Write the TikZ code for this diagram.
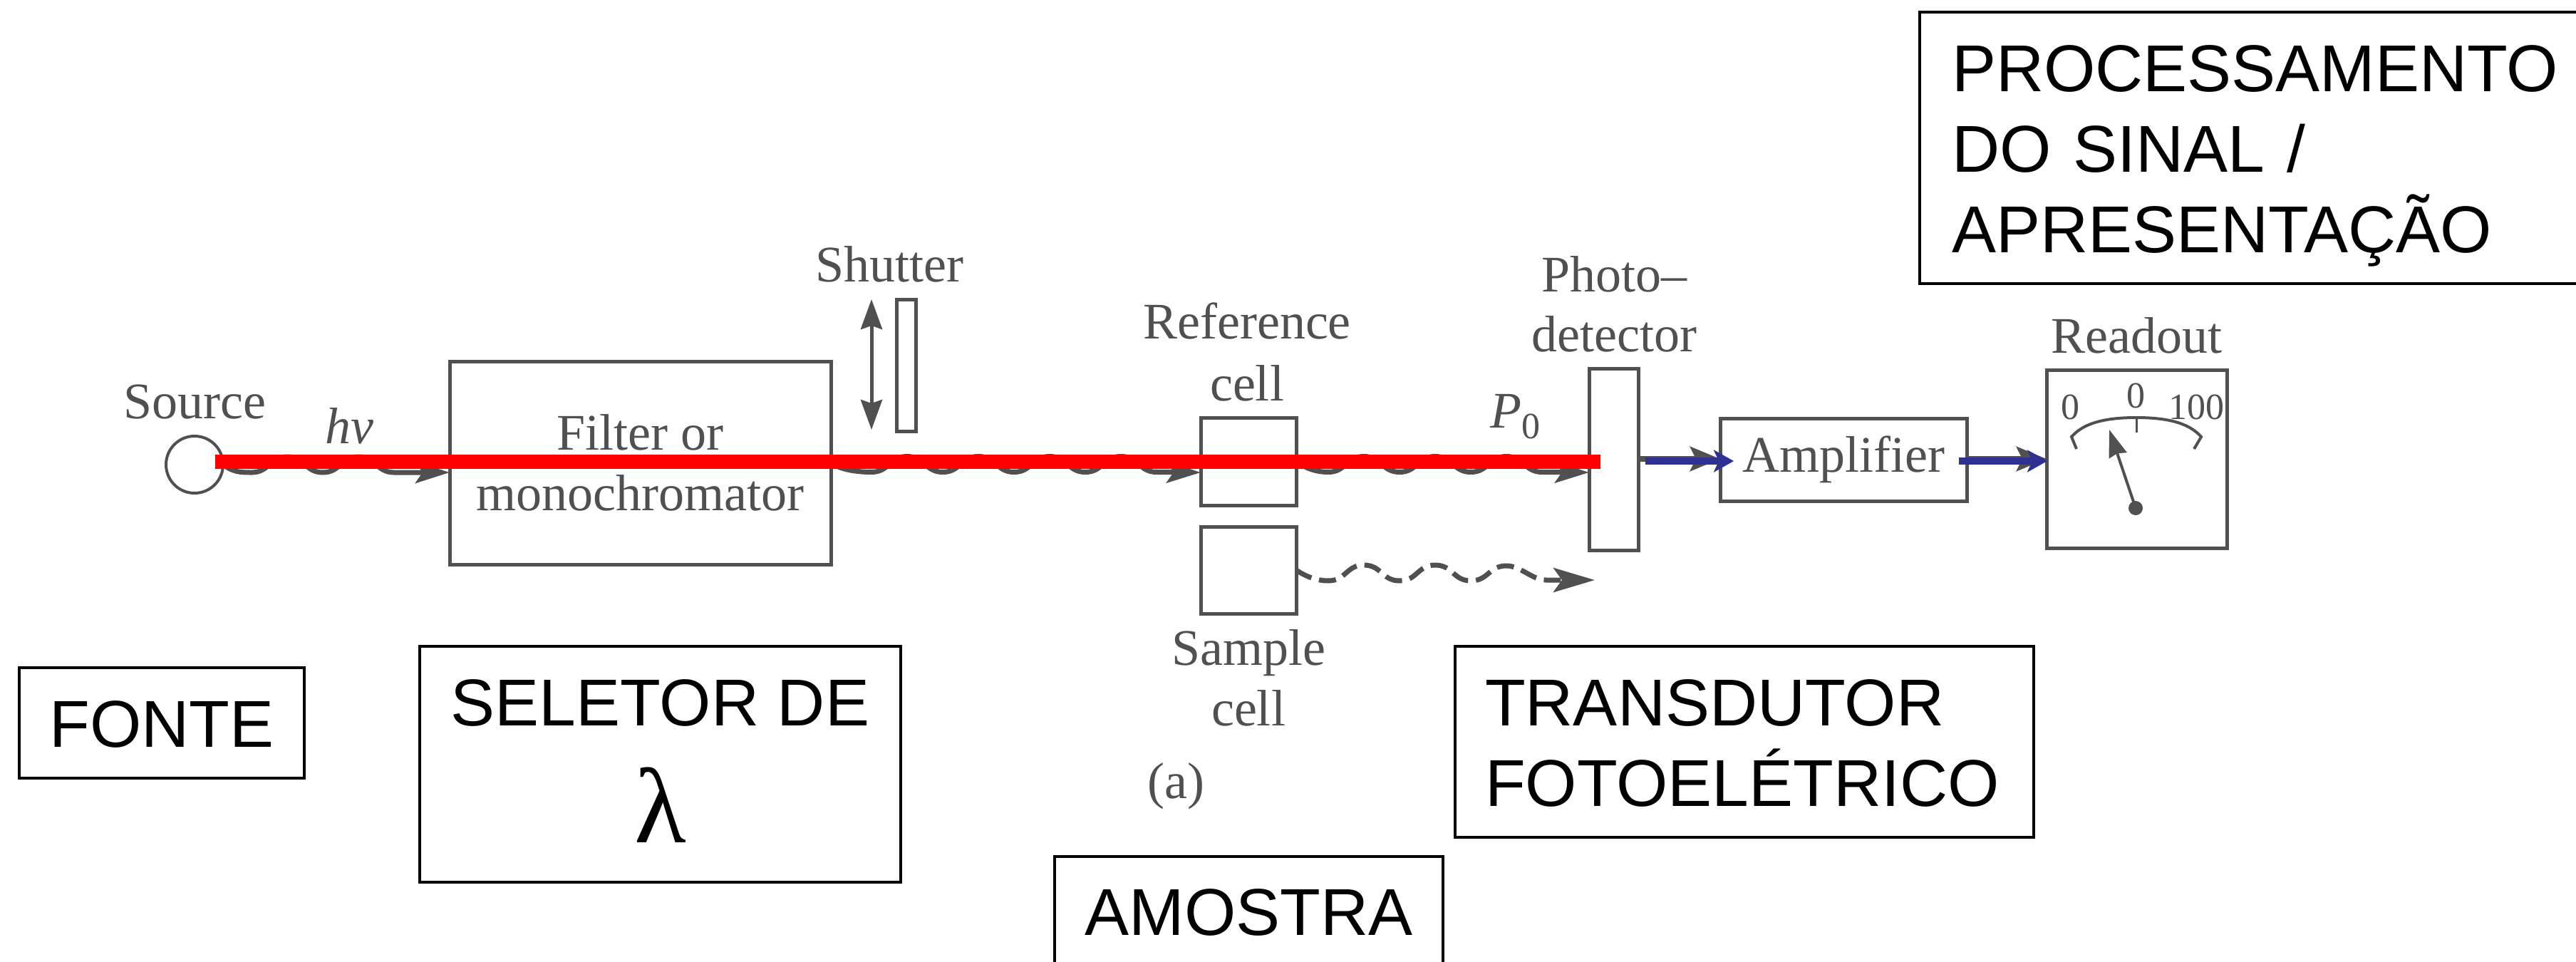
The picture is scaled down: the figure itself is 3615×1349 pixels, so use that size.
\documentclass[tikz,border=0pt]{standalone}
\usepackage{fontspec}
\setmainfont{Liberation Serif}
\newfontfamily\arialf{Liberation Sans}
\usetikzlibrary{arrows.meta}
\definecolor{ink}{HTML}{505050}
\definecolor{bluearrow}{HTML}{2E3192}
\definecolor{redbeam}{HTML}{FF0000}
\newcommand\wv{.. controls +(25,0) and +(-25,0) .. ++(50,-22) .. controls +(25,0) and +(-25,0) .. ++(50,22)}
\newcommand\hh[1]{\rule{0pt}{#1pt}}
\newcommand\dd[1]{\rule[-#1pt]{0pt}{#1pt}}
\tikzset{
  inktext/.style={font=\fontsize{72}{85}\selectfont, text=ink, inner sep=0pt, outer sep=0pt, anchor=base},
  dial/.style={font=\fontsize{52}{60}\selectfont, text=ink, inner sep=0pt, outer sep=0pt, anchor=base},
  part/.style={draw=ink, line width=5pt, inner sep=0pt, outer sep=0pt, align=center, font=\fontsize{72}{85}\selectfont, text=ink},
  tag/.style={draw=black, line width=4pt, outer sep=0pt, inner sep=0pt, font=\arialf\fontsize{93}{113}\selectfont, text=black},
  beam/.style={draw=ink, line width=7pt, -{Stealth[length=48pt,width=30pt,inset=10pt]}},
  offbeam/.style={draw=ink, line width=7pt, dash pattern=on 24pt off 11pt, -{Stealth[length=58pt,width=34pt,inset=12pt]}},
  slide/.style={draw=ink, line width=5pt, {Stealth[length=42pt,width=30pt,inset=5pt]}-{Stealth[length=42pt,width=30pt,inset=5pt]}},
  signal/.style={draw=ink, line width=8pt, -{Stealth[length=42pt,width=34pt,inset=8pt]}},
  bluesig/.style={draw=bluearrow, line width=10pt, -{Stealth[length=28pt,width=31pt,inset=7pt]}},
  redline/.style={draw=redbeam, line width=20pt},
  needle/.style={draw=ink, line width=4pt, -{Stealth[length=38pt,width=26pt,inset=3pt]}},
}
\begin{document}
\begin{tikzpicture}[x=1pt,y=-1pt]
\clip (0,0) rectangle (3615,1349);
\fill[white] (0,0) rectangle (3615,1349);
% apparatus
\node[part, circle, minimum size=80pt, line width=4pt] (src) at (273,652) {};
\node[part, minimum width=535pt, minimum height=285pt] (flt) at (898.5,649.5) {Filter or\\monochromator};
\node[part, minimum width=27pt, minimum height=185pt] (shut) at (1271.5,512.5) {};
\node[part, minimum width=134pt, minimum height=123pt] (refc) at (1752,647.5) {};
\node[part, minimum width=134pt, minimum height=122pt] (samc) at (1752,800) {};
\node[part, minimum width=69pt, minimum height=255pt] (det) at (2264.5,644.5) {};
\node[part, minimum width=346pt, minimum height=116pt] (amp) at (2587,645) {Amplifier};
\node[part, minimum width=253pt, minimum height=250pt] (read) at (2998.5,644) {};
% printed labels
\node[inktext] (tsrc) at (273,587) {Source};
\node[inktext] (thv) at (490,622) {\itshape hν};
\node[inktext] (tshut) at (1248.5,395) {Shutter};
\node[inktext] (tref) at (1750,475) {Reference};
\node[inktext] (tcell) at (1750,562) {cell};
\node[inktext] (tsam) at (1752,933) {Sample};
\node[inktext] (tcell2) at (1752,1018) {cell};
\node[inktext] (ta) at (1650,1120) {(a)};
\node[inktext, anchor=base west] (tp) at (2091,600) {{\itshape P}\raisebox{-15pt}{\fontsize{52}{60}\selectfont 0}};
\node[inktext] (tpho) at (2265,409) {Photo–};
\node[inktext] (tdet) at (2265,493) {detector};
\node[inktext] (tread) at (2998,495) {Readout};
\node[dial] (d0) at (2905,588) {0};
\node[dial] (d1) at (2997,572) {0};
\node[dial] (d2) at (3082,588) {100};
% dial
\coordinate (a1) at (2914,630);
\coordinate (a2) at (2907,613);
\coordinate (a3) at (2998,586);
\coordinate (a4) at (3089,613);
\coordinate (a5) at (3079,630);
\coordinate (tk) at (2998,607);
\coordinate (piv) at (2997,713);
\coordinate (ntip) at (2960,603);
\draw[ink, line width=4pt] (a1) -- (a2) .. controls +(15,-17) and +(-50,0) .. (a3) .. controls +(50,0) and +(-15,-17) .. (a4) -- (a5);
\draw[ink, line width=3pt] (a3) -- (tk);
\draw[needle] (piv) -- (ntip);
\fill[ink] (piv) circle (10pt);
% shutter arrow
\coordinate (s1) at (1223,420);
\coordinate (s2) at (1223,603);
\draw[slide] (s1) -- (s2);
% light beams
\coordinate (lvl) at (0,663);
\draw[beam] (src.east) .. controls +(15,11) and +(-15,0) .. ++(40,11) \wv \wv -- (flt.west |- lvl);
\draw[beam] (flt.east) .. controls +(15,11) and +(-15,0) .. ++(57,13) \wv \wv \wv \wv -- (refc.west |- lvl);
\draw[beam] (refc.east) .. controls +(15,11) and +(-15,0) .. ++(45,15) \wv \wv \wv -- (det.west |- lvl);
\coordinate (osend) at (2238,814);
\draw[offbeam] (samc.east) .. controls +(15,10) and +(-15,0) .. ++(45,15) \wv \wv .. controls +(25,0) and +(-25,0) .. ++(50,-21) .. controls +(20,0) and +(-20,0) .. ++(56,20) -- (osend);
% signal arrows
\coordinate (sgy) at (0,647);
\coordinate (sgg) at (0,644);
\draw[signal] (det.east |- sgg) -- (amp.west |- sgg);
\draw[signal] (amp.east |- sgg) -- (read.west |- sgg);
\draw[bluesig] ([xshift=10pt]det.east |- sgy) -- ([xshift=19pt]amp.west |- sgy);
\draw[bluesig] ([xshift=-11pt]amp.east |- sgy) -- ([xshift=1pt]read.west |- sgy);
% red beam
\coordinate (redA) at (302,647.5);
\coordinate (redB) at (2246,647.5);
\draw[redline] (redA) -- (redB);
% annotation boxes
\node[tag, minimum width=400pt, minimum height=155pt, align=center] (fonte) at (227,1014.5) {\hh{70}\dd{3}FONTE};
\node[tag, minimum width=675pt, minimum height=331pt, align=center] (selet) at (926.5,1072.5) {\hh{80}SELETOR DE\\[51pt]{\rmfamily\fontsize{150}{150}\selectfont λ}\dd{25}};
\node[tag, minimum width=812pt, minimum height=268pt, inner xsep=42pt, text width=728pt, align=left] (trans) at (2448,1041) {\hh{73}TRANSDUTOR\\FOTOELÉTRICO\dd{5}};
\node[tag, minimum width=545pt, minimum height=158pt, align=center] (amos) at (1752.5,1281) {\hh{72}\dd{10}AMOSTRA};
\node[tag, minimum width=936pt, minimum height=381pt, inner xsep=45pt, text width=846pt, align=left] (proc) at (3162,207.5) {\hh{93}PROCESSAMENTO\\DO SINAL /\\APRESENTAÇÃO\dd{25}};
\end{tikzpicture}
\end{document}
